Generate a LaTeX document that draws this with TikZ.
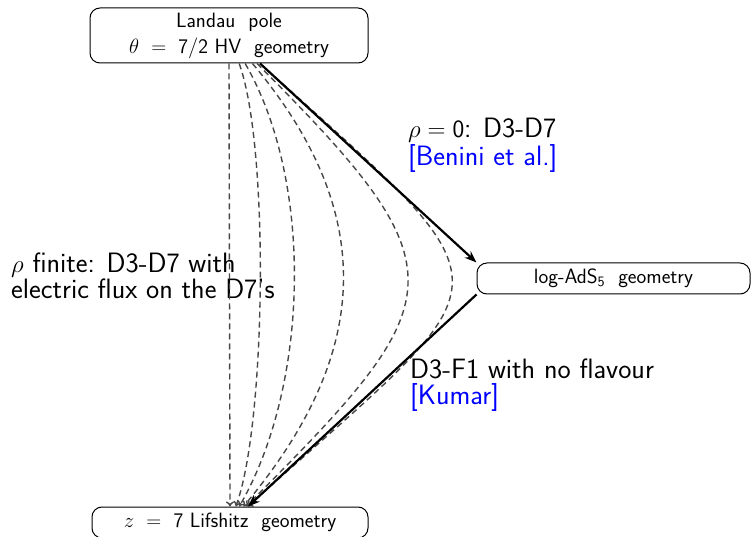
\documentclass[tikz,border=0pt]{standalone}
\usetikzlibrary{arrows.meta}
\begin{document}
\begin{tikzpicture}[x=1pt,y=1pt,
  geobox/.style={draw, line width=1pt, rounded corners=10pt, inner sep=0pt,
    font=\sffamily\fontsize{20.7}{26}\selectfont, align=center},
  lbl/.style={anchor=base west, inner sep=0pt, font=\sffamily\fontsize{28}{30}\selectfont},
  solidarrow/.style={line width=2.2pt, -{Stealth[length=12pt,width=9pt]}},
  flowline/.style={black!72, line width=1.4pt, dash pattern=on 6pt off 4pt, -{To[length=5pt,width=8pt]}}
]
\useasboundingbox (0,0) rectangle (752,536);
\node[geobox, minimum width=278pt, minimum height=55pt] (HV) at (229,500.5)
  {Landau\ \ pole\\ $\theta\ =\ \mathsf{7/2}$ HV\ \ geometry};
\node[geobox, minimum width=273pt, minimum height=31pt] (AdS) at (613.5,257.5)
  {log-AdS$_{\mathsf{5}}$\ \ geometry};
\node[geobox, minimum width=276pt, minimum height=31pt] (Lif) at (230,13.5)
  {$z\ =\ \mathsf{7}$ Lifshitz\ \ geometry};

\node[lbl] (la) at (408,398.5) {$\rho=\mathsf{0}$: D3-D7};
\node[lbl, text=blue] (lb) at (408,370) {[Benini et al.]};
\node[lbl] (lc) at (410,157.5) {D3-F1 with no flavour};
\node[lbl, text=blue] (ld) at (410,131.5) {[Kumar]};
\node[lbl] (le) at (11,263.5) {$\rho$ finite: D3-D7 with};
\node[lbl] (lf) at (11,237) {electric flux on the D7's};

\draw[flowline] (HV.south) -- (Lif.north);
\draw[flowline] (HV) to[out=-70, in=70, looseness=0.51] (Lif);
\draw[flowline] (HV) to[out=-60, in=60, looseness=0.80] (Lif);
\draw[flowline] (HV) to[out=-50, in=50, looseness=1.14] (Lif);
\draw[flowline] (HV) to[out=-45, in=45, looseness=1.70] (Lif);
\draw[flowline] (HV) to[out=-42, in=42, looseness=2.05] (Lif);

\draw[solidarrow] ([xshift=31pt]HV.south) -- (AdS.north west);
\draw[solidarrow] (AdS.south west) -- ([xshift=18pt]Lif.north);
\end{tikzpicture}
\end{document}
